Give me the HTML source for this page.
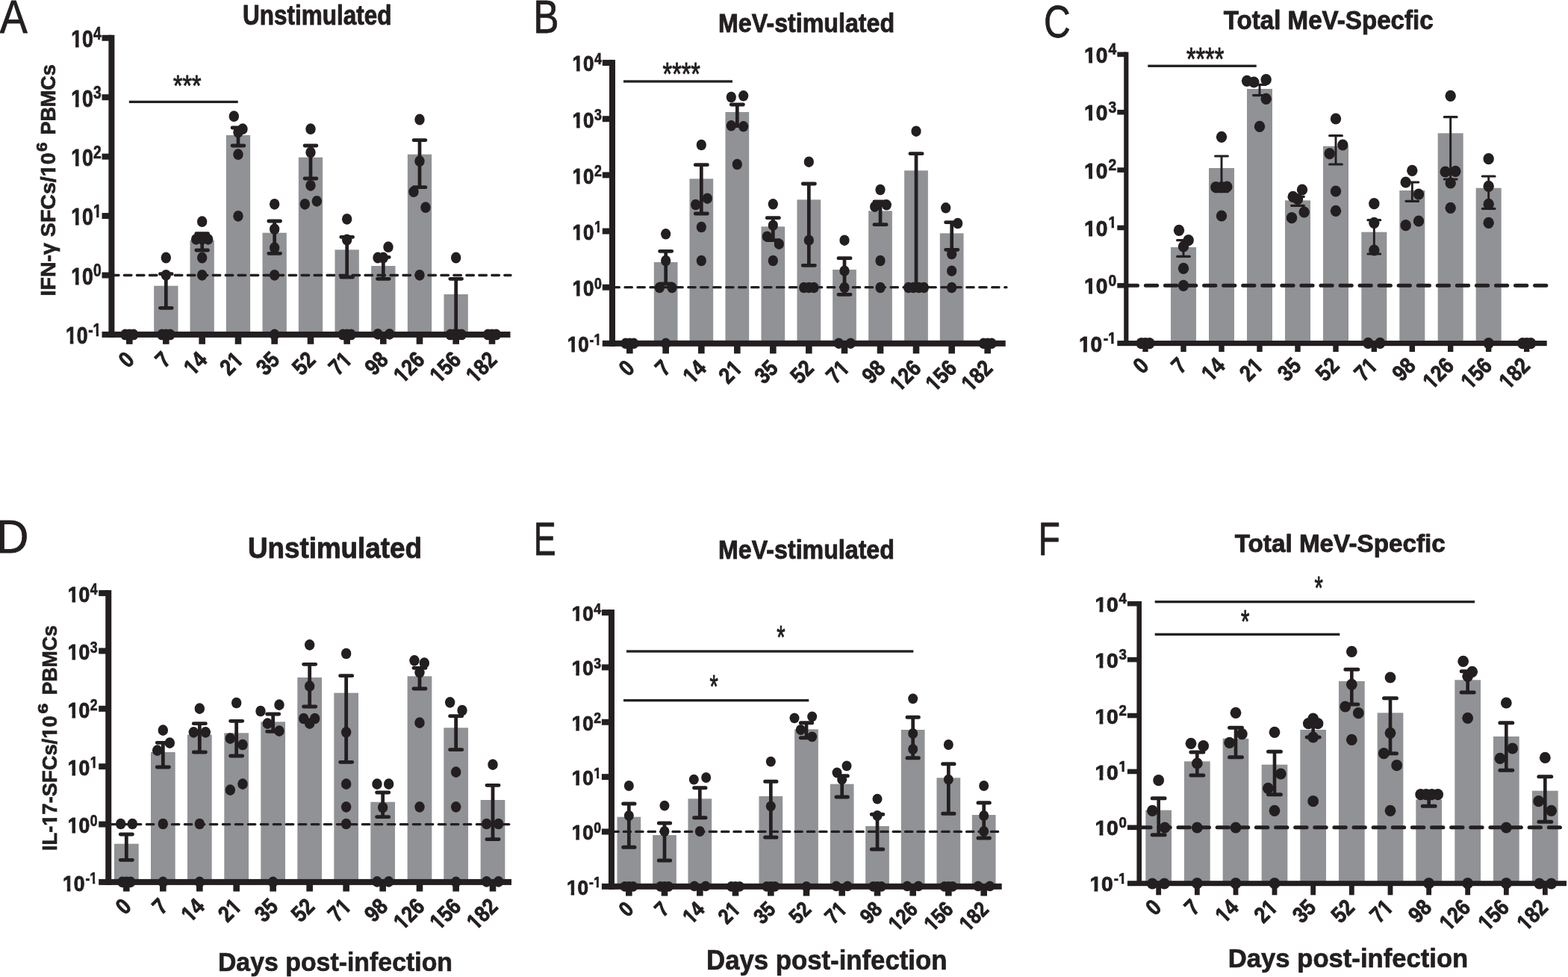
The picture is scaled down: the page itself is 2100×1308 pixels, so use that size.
<!DOCTYPE html>
<html lang="en">
<head>
<meta charset="utf-8">
<title>IFN-&#947; and IL-17 ELISpot responses after MeV infection</title>
<style>
html,body{margin:0;padding:0;background:#fff;}
body{width:2100px;height:1308px;overflow:hidden;font-family:"Liberation Sans",Arial,Helvetica,sans-serif;}
svg{display:block;}
text{white-space:pre;}
</style>
</head>
<body>
<svg width="2100" height="1308" viewBox="0 0 2100 1308" font-family="'Liberation Sans', Arial, Helvetica, sans-serif">
<defs><clipPath id="k1" clipPathUnits="userSpaceOnUse"><polygon points="-300,-300 355.62,-300 355.62,-15.6 38.7,-15.6 38.7,300 21.7,300 21.7,-15.6 -300,-15.6"/></clipPath><clipPath id="k10" clipPathUnits="userSpaceOnUse"><polygon points="-300,-300 411.23,-300 411.23,300 60,300 60,-15.6 38.7,-15.6 38.7,300 21.7,300 21.7,-15.6 -300,-15.6"/></clipPath><clipPath id="k126e" clipPathUnits="userSpaceOnUse"><polygon points="-466.86,-300 300,-300 300,300 -110.46,300 -110.46,-15.6 -128.16,-15.6 -128.16,300 -145.16,300 -145.16,-15.6 -466.86,-15.6"/></clipPath><clipPath id="k14e" clipPathUnits="userSpaceOnUse"><polygon points="-411.23,-300 300,-300 300,300 -51.23,300 -51.23,-15.6 -72.53,-15.6 -72.53,300 -89.53,300 -89.53,-15.6 -411.23,-15.6"/></clipPath><clipPath id="k156e" clipPathUnits="userSpaceOnUse"><polygon points="-466.86,-300 300,-300 300,300 -106.86,300 -106.86,-15.6 -128.16,-15.6 -128.16,300 -145.16,300 -145.16,-15.6 -466.86,-15.6"/></clipPath><clipPath id="k182e" clipPathUnits="userSpaceOnUse"><polygon points="-466.86,-300 300,-300 300,300 -106.86,300 -106.86,-15.6 -128.16,-15.6 -128.16,300 -145.16,300 -145.16,-15.6 -466.86,-15.6"/></clipPath><clipPath id="k21e" clipPathUnits="userSpaceOnUse"><polygon points="-411.23,-300 300,-300 300,-15.6 -16.92,-15.6 -16.92,300 -33.92,300 -33.92,-15.6 -54.62,-15.6 -54.62,300 -411.23,300"/></clipPath><clipPath id="k71e" clipPathUnits="userSpaceOnUse"><polygon points="-411.23,-300 300,-300 300,-15.6 -16.92,-15.6 -16.92,300 -33.92,300 -33.92,-15.6 -54.62,-15.6 -54.62,300 -411.23,300"/></clipPath><clipPath id="kIFNmgmSFCsm10" clipPathUnits="userSpaceOnUse"><polygon points="-300,-300 972.42,-300 972.42,300 621.17,300 621.17,-15.6 599.87,-15.6 599.87,300 582.87,300 582.87,-15.6 562.17,-15.6 562.17,300 -300,300"/></clipPath><clipPath id="kILm17mSFCsm10" clipPathUnits="userSpaceOnUse"><polygon points="-300,-300 961.33,-300 961.33,300 610.09,300 610.09,-15.6 588.79,-15.6 588.79,300 571.79,300 571.79,-15.6 551.09,-15.6 551.09,300 182.16,300 182.16,-15.6 160.86,-15.6 160.86,300 143.86,300 143.86,-15.6 123.16,-15.6 123.16,300 -300,300"/></clipPath><clipPath id="km1" clipPathUnits="userSpaceOnUse"><polygon points="-300,-300 388.92,-300 388.92,-15.6 72,-15.6 72,300 55,300 55,-15.6 34.3,-15.6 34.3,300 -300,300"/></clipPath></defs>
<g id="panel-A">
<g fill="#909295">
<rect x="206.18" y="382.67" width="32.3" height="65.23"/>
<rect x="254.52" y="321.67" width="32.3" height="126.23"/>
<rect x="302.85" y="181" width="32.3" height="266.9"/>
<rect x="351.52" y="311.67" width="32.3" height="136.23"/>
<rect x="399.85" y="210.67" width="32.3" height="237.23"/>
<rect x="448.52" y="334.33" width="32.3" height="113.57"/>
<rect x="497.18" y="356" width="32.3" height="91.9"/>
<rect x="545.85" y="206.67" width="32.3" height="241.23"/>
<rect x="594.52" y="394" width="32.3" height="53.9"/>
</g>
<line x1="149.4" y1="368.48" x2="684" y2="368.48" stroke="#231f20" stroke-width="3.3" stroke-linecap="round" stroke-dasharray="9.6 7.38" stroke-dashoffset="0"/>
<g fill="#231f20">
<rect x="145.4" y="46.8" width="8" height="405.1"/>
<rect x="136.5" y="443.9" width="547" height="8"/>
<rect x="136.5" y="46.8" width="12.9" height="8"/>
<rect x="136.5" y="126.22" width="12.9" height="8"/>
<rect x="136.5" y="205.64" width="12.9" height="8"/>
<rect x="136.5" y="285.06" width="12.9" height="8"/>
<rect x="136.5" y="364.48" width="12.9" height="8"/>
<rect x="169.03" y="447.9" width="8.6" height="12.9"/>
<rect x="218.03" y="447.9" width="8.6" height="12.9"/>
<rect x="266.37" y="447.9" width="8.6" height="12.9"/>
<rect x="314.7" y="447.9" width="8.6" height="12.9"/>
<rect x="363.37" y="447.9" width="8.6" height="12.9"/>
<rect x="411.7" y="447.9" width="8.6" height="12.9"/>
<rect x="460.37" y="447.9" width="8.6" height="12.9"/>
<rect x="509.03" y="447.9" width="8.6" height="12.9"/>
<rect x="557.7" y="447.9" width="8.6" height="12.9"/>
<rect x="606.37" y="447.9" width="8.6" height="12.9"/>
<rect x="654.7" y="447.9" width="8.6" height="12.9"/>
</g>
<g stroke="#231f20" fill="none">
<path stroke-width="4.7" d="M222.33 366.67V412.33M270.67 312.67V335M319 171V195M367.67 296V339.33M416 195V239M464.67 317.33V371M513.33 344.33V373.33M562 187.67V250.67M610.67 373.33V447.9"/>
<path stroke-width="4.9" stroke-linecap="round" d="M214.48 366.67H230.18M214.48 412.33H230.18M262.82 312.67H278.52M262.82 335H278.52M311.15 171H326.85M311.15 195H326.85M359.82 296H375.52M359.82 339.33H375.52M408.15 195H423.85M408.15 239H423.85M456.82 317.33H472.52M456.82 371H472.52M505.48 344.33H521.18M505.48 373.33H521.18M554.15 187.67H569.85M554.15 250.67H569.85M602.82 373.33H618.52"/>
</g>
<g fill="#231f20">
<ellipse cx="167.83" cy="447.9" rx="6.7" ry="7.4"/>
<ellipse cx="173.33" cy="447.9" rx="6.7" ry="7.4"/>
<ellipse cx="178.83" cy="447.9" rx="6.7" ry="7.4"/>
<ellipse cx="222.33" cy="345" rx="6.7" ry="7.4"/>
<ellipse cx="222.33" cy="368.33" rx="6.7" ry="7.4"/>
<ellipse cx="216.83" cy="447.9" rx="6.7" ry="7.4"/>
<ellipse cx="222.33" cy="447.9" rx="6.7" ry="7.4"/>
<ellipse cx="227.83" cy="447.9" rx="6.7" ry="7.4"/>
<ellipse cx="270.67" cy="296.67" rx="6.7" ry="7.4"/>
<ellipse cx="262.67" cy="320.33" rx="6.7" ry="7.4"/>
<ellipse cx="270.67" cy="320.33" rx="6.7" ry="7.4"/>
<ellipse cx="278.67" cy="320.33" rx="6.7" ry="7.4"/>
<ellipse cx="270.67" cy="345" rx="6.7" ry="7.4"/>
<ellipse cx="270.67" cy="368.33" rx="6.7" ry="7.4"/>
<ellipse cx="313.33" cy="155.67" rx="6.7" ry="7.4"/>
<ellipse cx="325" cy="172.67" rx="6.7" ry="7.4"/>
<ellipse cx="319" cy="177" rx="6.7" ry="7.4"/>
<ellipse cx="319" cy="206.67" rx="6.7" ry="7.4"/>
<ellipse cx="319" cy="289.33" rx="6.7" ry="7.4"/>
<ellipse cx="367.67" cy="273.33" rx="6.7" ry="7.4"/>
<ellipse cx="367.67" cy="306.67" rx="6.7" ry="7.4"/>
<ellipse cx="367.67" cy="331.67" rx="6.7" ry="7.4"/>
<ellipse cx="367.67" cy="368.33" rx="6.7" ry="7.4"/>
<ellipse cx="367.67" cy="447.9" rx="6.7" ry="7.4"/>
<ellipse cx="416" cy="172.67" rx="6.7" ry="7.4"/>
<ellipse cx="416" cy="204" rx="6.7" ry="7.4"/>
<ellipse cx="416" cy="248.33" rx="6.7" ry="7.4"/>
<ellipse cx="408.33" cy="273.33" rx="6.7" ry="7.4"/>
<ellipse cx="424.33" cy="269.33" rx="6.7" ry="7.4"/>
<ellipse cx="464.67" cy="293.33" rx="6.7" ry="7.4"/>
<ellipse cx="464.67" cy="321" rx="6.7" ry="7.4"/>
<ellipse cx="459.17" cy="447.9" rx="6.7" ry="7.4"/>
<ellipse cx="464.67" cy="447.9" rx="6.7" ry="7.4"/>
<ellipse cx="470.17" cy="447.9" rx="6.7" ry="7.4"/>
<ellipse cx="520" cy="330.67" rx="6.7" ry="7.4"/>
<ellipse cx="506" cy="345" rx="6.7" ry="7.4"/>
<ellipse cx="513.33" cy="345" rx="6.7" ry="7.4"/>
<ellipse cx="506" cy="447.33" rx="6.7" ry="7.4"/>
<ellipse cx="521.67" cy="447.33" rx="6.7" ry="7.4"/>
<ellipse cx="562" cy="160" rx="6.7" ry="7.4"/>
<ellipse cx="562" cy="215.67" rx="6.7" ry="7.4"/>
<ellipse cx="554" cy="256.67" rx="6.7" ry="7.4"/>
<ellipse cx="570" cy="277.67" rx="6.7" ry="7.4"/>
<ellipse cx="562" cy="368.33" rx="6.7" ry="7.4"/>
<ellipse cx="610.67" cy="345" rx="6.7" ry="7.4"/>
<ellipse cx="603.17" cy="447.9" rx="6.7" ry="7.4"/>
<ellipse cx="608.17" cy="447.9" rx="6.7" ry="7.4"/>
<ellipse cx="613.17" cy="447.9" rx="6.7" ry="7.4"/>
<ellipse cx="618.17" cy="447.9" rx="6.7" ry="7.4"/>
<ellipse cx="653.5" cy="447.9" rx="6.7" ry="7.4"/>
<ellipse cx="659" cy="447.9" rx="6.7" ry="7.4"/>
<ellipse cx="664.5" cy="447.9" rx="6.7" ry="7.4"/>
</g>
<rect x="172.8" y="134.75" width="145.9" height="3.3" fill="#231f20"/>
<g fill="#231f20">
<text transform="translate(231.93 127.51) scale(0.82 1)" font-size="39.14" font-weight="normal" stroke="#231f20" stroke-width="1" stroke-linejoin="round">***</text>
<text transform="translate(95.27 63.23) scale(0.26605 0.31437)" font-weight="bold" font-size="100" stroke="#231f20" stroke-width="2.86" clip-path="url(#k10)">10</text>
<text transform="translate(125 52.75) scale(0.82 1)" font-weight="bold" font-size="23.51" stroke="#231f20" stroke-width="0.7">4</text>
<text transform="translate(95.27 142.65) scale(0.26605 0.31437)" font-weight="bold" font-size="100" stroke="#231f20" stroke-width="2.86" clip-path="url(#k10)">10</text>
<text transform="translate(125 132.17) scale(0.82 1)" font-weight="bold" font-size="23.51" stroke="#231f20" stroke-width="0.7">3</text>
<text transform="translate(95.27 222.07) scale(0.26605 0.31437)" font-weight="bold" font-size="100" stroke="#231f20" stroke-width="2.86" clip-path="url(#k10)">10</text>
<text transform="translate(125 211.59) scale(0.82 1)" font-weight="bold" font-size="23.51" stroke="#231f20" stroke-width="0.7">2</text>
<text transform="translate(95.27 301.49) scale(0.26605 0.31437)" font-weight="bold" font-size="100" stroke="#231f20" stroke-width="2.86" clip-path="url(#k10)">10</text>
<text transform="translate(125 291.01) scale(0.193 0.23507)" font-weight="bold" font-size="100" stroke="#231f20" stroke-width="2.98" clip-path="url(#k1)">1</text>
<text transform="translate(95.27 380.91) scale(0.26605 0.31437)" font-weight="bold" font-size="100" stroke="#231f20" stroke-width="2.86" clip-path="url(#k10)">10</text>
<text transform="translate(125 370.43) scale(0.82 1)" font-weight="bold" font-size="23.51" stroke="#231f20" stroke-width="0.7">0</text>
<text transform="translate(88.05 460.33) scale(0.26605 0.31437)" font-weight="bold" font-size="100" stroke="#231f20" stroke-width="2.86" clip-path="url(#k10)">10</text>
<text transform="translate(118.17 449.85) scale(0.193 0.23507)" font-weight="bold" font-size="100" stroke="#231f20" stroke-width="2.98" clip-path="url(#km1)">-1</text>
<text transform="translate(181.63 483.4) rotate(-45) scale(0.87 1)" font-weight="bold" text-anchor="end" font-size="30.1" stroke="#231f20" stroke-width="0.9">0</text>
<text transform="translate(230.63 483.4) rotate(-45) scale(0.87 1)" font-weight="bold" text-anchor="end" font-size="30.1" stroke="#231f20" stroke-width="0.9">7</text>
<text transform="translate(278.97 483.4) rotate(-45) scale(0.26187 0.301)" font-weight="bold" text-anchor="end" font-size="100" stroke="#231f20" stroke-width="2.99" clip-path="url(#k14e)">14</text>
<text transform="translate(327.3 483.4) rotate(-45) scale(0.26187 0.301)" font-weight="bold" text-anchor="end" font-size="100" stroke="#231f20" stroke-width="2.99" clip-path="url(#k21e)">21</text>
<text transform="translate(375.97 483.4) rotate(-45) scale(0.87 1)" font-weight="bold" text-anchor="end" font-size="30.1" stroke="#231f20" stroke-width="0.9">35</text>
<text transform="translate(424.3 483.4) rotate(-45) scale(0.87 1)" font-weight="bold" text-anchor="end" font-size="30.1" stroke="#231f20" stroke-width="0.9">52</text>
<text transform="translate(472.97 483.4) rotate(-45) scale(0.26187 0.301)" font-weight="bold" text-anchor="end" font-size="100" stroke="#231f20" stroke-width="2.99" clip-path="url(#k71e)">71</text>
<text transform="translate(521.63 483.4) rotate(-45) scale(0.87 1)" font-weight="bold" text-anchor="end" font-size="30.1" stroke="#231f20" stroke-width="0.9">98</text>
<text transform="translate(570.3 483.4) rotate(-45) scale(0.26187 0.301)" font-weight="bold" text-anchor="end" font-size="100" stroke="#231f20" stroke-width="2.99" clip-path="url(#k126e)">126</text>
<text transform="translate(618.97 483.4) rotate(-45) scale(0.26187 0.301)" font-weight="bold" text-anchor="end" font-size="100" stroke="#231f20" stroke-width="2.99" clip-path="url(#k156e)">156</text>
<text transform="translate(667.3 483.4) rotate(-45) scale(0.26187 0.301)" font-weight="bold" text-anchor="end" font-size="100" stroke="#231f20" stroke-width="2.99" clip-path="url(#k182e)">182</text>
<text transform="translate(-0.23 43.9) scale(0.88 1)" font-size="63.07" font-weight="normal" stroke="#231f20" stroke-width="0.8" stroke-linejoin="round">A</text>
<text transform="translate(325.1 32.75) scale(0.87 1)" font-size="36.2" font-weight="bold" stroke="#231f20" stroke-width="0.9" stroke-linejoin="round">Unstimulated</text>
<text transform="translate(73.85 396.49) rotate(-90) scale(0.2856 0.27246)" font-weight="bold" font-size="100" stroke="#231f20" stroke-width="2.57" clip-path="url(#kIFNmgmSFCsm10)">IFN-γ SFCs/10</text>
<text transform="translate(63.45 202.98) rotate(-90) scale(1.16 1)" font-weight="bold" font-size="19.43" stroke="#231f20" stroke-width="0.7">6</text>
<text transform="translate(73.85 180.61) rotate(-90) scale(0.99 1)" font-weight="bold" font-size="27.25" stroke="#231f20" stroke-width="0.7">PBMCs</text>
</g>
</g>
<g id="panel-B">
<g fill="#909295">
<rect x="875.82" y="351" width="31.7" height="108.8"/>
<rect x="923.48" y="239.33" width="31.7" height="220.47"/>
<rect x="971.48" y="150" width="31.7" height="309.8"/>
<rect x="1019.48" y="303.33" width="31.7" height="156.47"/>
<rect x="1067.48" y="267.33" width="31.7" height="192.47"/>
<rect x="1115.15" y="361" width="31.7" height="98.8"/>
<rect x="1163.15" y="282.33" width="31.7" height="177.47"/>
<rect x="1211.15" y="228.33" width="31.7" height="231.47"/>
<rect x="1258.82" y="312.33" width="31.7" height="147.47"/>
</g>
<line x1="820" y1="384.66" x2="1348" y2="384.66" stroke="#231f20" stroke-width="3.1" stroke-linecap="round" stroke-dasharray="9.5 7.455" stroke-dashoffset="0"/>
<g fill="#231f20">
<rect x="816" y="80.08" width="8" height="383.72"/>
<rect x="806.8" y="455.8" width="539.9" height="8"/>
<rect x="806.8" y="80.08" width="13.2" height="8"/>
<rect x="806.8" y="155.22" width="13.2" height="8"/>
<rect x="806.8" y="230.37" width="13.2" height="8"/>
<rect x="806.8" y="305.51" width="13.2" height="8"/>
<rect x="806.8" y="380.66" width="13.2" height="8"/>
<rect x="839.03" y="459.8" width="8.6" height="13.6"/>
<rect x="887.37" y="459.8" width="8.6" height="13.6"/>
<rect x="935.03" y="459.8" width="8.6" height="13.6"/>
<rect x="983.03" y="459.8" width="8.6" height="13.6"/>
<rect x="1031.03" y="459.8" width="8.6" height="13.6"/>
<rect x="1079.03" y="459.8" width="8.6" height="13.6"/>
<rect x="1126.7" y="459.8" width="8.6" height="13.6"/>
<rect x="1174.7" y="459.8" width="8.6" height="13.6"/>
<rect x="1222.7" y="459.8" width="8.6" height="13.6"/>
<rect x="1270.37" y="459.8" width="8.6" height="13.6"/>
<rect x="1318.37" y="459.8" width="8.6" height="13.6"/>
</g>
<g stroke="#231f20" fill="none">
<path stroke-width="4.7" d="M891.67 336.33V380M939.33 220.67V286M987.33 140V168.67M1035.33 291.67V321.67M1083.33 246V355.33M1131 345.67V394.33M1179 270V300.67M1227 205.67V383.33M1274.67 297.67V334.33"/>
<path stroke-width="4.9" stroke-linecap="round" d="M883.62 336.33H899.72M883.62 380H899.72M931.28 220.67H947.38M931.28 286H947.38M979.28 140H995.38M979.28 168.67H995.38M1027.28 291.67H1043.38M1027.28 321.67H1043.38M1075.28 246H1091.38M1075.28 355.33H1091.38M1122.95 345.67H1139.05M1122.95 394.33H1139.05M1170.95 270H1187.05M1170.95 300.67H1187.05M1218.95 205.67H1235.05M1218.95 383.33H1235.05M1266.62 297.67H1282.72M1266.62 334.33H1282.72"/>
</g>
<g fill="#231f20">
<ellipse cx="837.83" cy="459.8" rx="6.6" ry="7.25"/>
<ellipse cx="843.33" cy="459.8" rx="6.6" ry="7.25"/>
<ellipse cx="848.83" cy="459.8" rx="6.6" ry="7.25"/>
<ellipse cx="891.67" cy="313.33" rx="6.6" ry="7.25"/>
<ellipse cx="891.67" cy="349" rx="6.6" ry="7.25"/>
<ellipse cx="883.33" cy="385" rx="6.6" ry="7.25"/>
<ellipse cx="900" cy="385" rx="6.6" ry="7.25"/>
<ellipse cx="891.67" cy="459.8" rx="6.6" ry="7.25"/>
<ellipse cx="939.33" cy="194" rx="6.6" ry="7.25"/>
<ellipse cx="947.33" cy="265.67" rx="6.6" ry="7.25"/>
<ellipse cx="931.67" cy="274" rx="6.6" ry="7.25"/>
<ellipse cx="939.33" cy="304" rx="6.6" ry="7.25"/>
<ellipse cx="939.33" cy="349" rx="6.6" ry="7.25"/>
<ellipse cx="979.33" cy="130" rx="6.6" ry="7.25"/>
<ellipse cx="995.67" cy="128.33" rx="6.6" ry="7.25"/>
<ellipse cx="979.33" cy="168.33" rx="6.6" ry="7.25"/>
<ellipse cx="995.67" cy="169.33" rx="6.6" ry="7.25"/>
<ellipse cx="987.33" cy="220" rx="6.6" ry="7.25"/>
<ellipse cx="1035.33" cy="273.33" rx="6.6" ry="7.25"/>
<ellipse cx="1035.33" cy="301.67" rx="6.6" ry="7.25"/>
<ellipse cx="1027.33" cy="316.67" rx="6.6" ry="7.25"/>
<ellipse cx="1043.33" cy="326.67" rx="6.6" ry="7.25"/>
<ellipse cx="1035.33" cy="349" rx="6.6" ry="7.25"/>
<ellipse cx="1083.33" cy="216.67" rx="6.6" ry="7.25"/>
<ellipse cx="1083.33" cy="321.67" rx="6.6" ry="7.25"/>
<ellipse cx="1076.67" cy="385" rx="6.6" ry="7.25"/>
<ellipse cx="1083.33" cy="385" rx="6.6" ry="7.25"/>
<ellipse cx="1090" cy="385" rx="6.6" ry="7.25"/>
<ellipse cx="1131" cy="321.67" rx="6.6" ry="7.25"/>
<ellipse cx="1131" cy="362.67" rx="6.6" ry="7.25"/>
<ellipse cx="1131" cy="385" rx="6.6" ry="7.25"/>
<ellipse cx="1123.33" cy="459.67" rx="6.6" ry="7.25"/>
<ellipse cx="1139.33" cy="459.67" rx="6.6" ry="7.25"/>
<ellipse cx="1179" cy="254" rx="6.6" ry="7.25"/>
<ellipse cx="1171.67" cy="276.67" rx="6.6" ry="7.25"/>
<ellipse cx="1187.33" cy="274.33" rx="6.6" ry="7.25"/>
<ellipse cx="1179" cy="349" rx="6.6" ry="7.25"/>
<ellipse cx="1179" cy="385" rx="6.6" ry="7.25"/>
<ellipse cx="1227" cy="175.67" rx="6.6" ry="7.25"/>
<ellipse cx="1216.67" cy="385" rx="6.6" ry="7.25"/>
<ellipse cx="1223.33" cy="385" rx="6.6" ry="7.25"/>
<ellipse cx="1230.67" cy="385" rx="6.6" ry="7.25"/>
<ellipse cx="1237.33" cy="385" rx="6.6" ry="7.25"/>
<ellipse cx="1266.67" cy="278.33" rx="6.6" ry="7.25"/>
<ellipse cx="1282.67" cy="299" rx="6.6" ry="7.25"/>
<ellipse cx="1274.67" cy="340" rx="6.6" ry="7.25"/>
<ellipse cx="1274.67" cy="362.67" rx="6.6" ry="7.25"/>
<ellipse cx="1274.67" cy="385" rx="6.6" ry="7.25"/>
<ellipse cx="1317.17" cy="459.8" rx="6.6" ry="7.25"/>
<ellipse cx="1322.67" cy="459.8" rx="6.6" ry="7.25"/>
<ellipse cx="1328.17" cy="459.8" rx="6.6" ry="7.25"/>
</g>
<rect x="835" y="107.35" width="146" height="3.3" fill="#231f20"/>
<g fill="#231f20">
<text transform="translate(887.57 112.78) scale(0.77 1)" font-size="42" font-weight="normal" stroke="#231f20" stroke-width="1" stroke-linejoin="round">****</text>
<text transform="translate(766.51 95.38) scale(0.25965 0.29014)" font-weight="bold" font-size="100" stroke="#231f20" stroke-width="3.1" clip-path="url(#k10)">10</text>
<text transform="translate(795.88 86.03) scale(0.8 1)" font-weight="bold" font-size="22.26" stroke="#231f20" stroke-width="0.7">4</text>
<text transform="translate(766.51 170.52) scale(0.25965 0.29014)" font-weight="bold" font-size="100" stroke="#231f20" stroke-width="3.1" clip-path="url(#k10)">10</text>
<text transform="translate(795.88 161.17) scale(0.8 1)" font-weight="bold" font-size="22.26" stroke="#231f20" stroke-width="0.7">3</text>
<text transform="translate(766.51 245.67) scale(0.25965 0.29014)" font-weight="bold" font-size="100" stroke="#231f20" stroke-width="3.1" clip-path="url(#k10)">10</text>
<text transform="translate(795.88 236.32) scale(0.8 1)" font-weight="bold" font-size="22.26" stroke="#231f20" stroke-width="0.7">2</text>
<text transform="translate(766.51 320.81) scale(0.25965 0.29014)" font-weight="bold" font-size="100" stroke="#231f20" stroke-width="3.1" clip-path="url(#k10)">10</text>
<text transform="translate(795.88 311.46) scale(0.17707 0.22261)" font-weight="bold" font-size="100" stroke="#231f20" stroke-width="3.14" clip-path="url(#k1)">1</text>
<text transform="translate(766.51 395.96) scale(0.25965 0.29014)" font-weight="bold" font-size="100" stroke="#231f20" stroke-width="3.1" clip-path="url(#k10)">10</text>
<text transform="translate(795.88 386.61) scale(0.8 1)" font-weight="bold" font-size="22.26" stroke="#231f20" stroke-width="0.7">0</text>
<text transform="translate(759.81 471.1) scale(0.25965 0.29014)" font-weight="bold" font-size="100" stroke="#231f20" stroke-width="3.1" clip-path="url(#k10)">10</text>
<text transform="translate(789.59 461.75) scale(0.17707 0.22261)" font-weight="bold" font-size="100" stroke="#231f20" stroke-width="3.14" clip-path="url(#km1)">-1</text>
<text transform="translate(851.63 494.6) rotate(-45) scale(0.87 1)" font-weight="bold" text-anchor="end" font-size="30.1" stroke="#231f20" stroke-width="0.9">0</text>
<text transform="translate(899.97 494.6) rotate(-45) scale(0.87 1)" font-weight="bold" text-anchor="end" font-size="30.1" stroke="#231f20" stroke-width="0.9">7</text>
<text transform="translate(947.63 494.6) rotate(-45) scale(0.26187 0.301)" font-weight="bold" text-anchor="end" font-size="100" stroke="#231f20" stroke-width="2.99" clip-path="url(#k14e)">14</text>
<text transform="translate(995.63 494.6) rotate(-45) scale(0.26187 0.301)" font-weight="bold" text-anchor="end" font-size="100" stroke="#231f20" stroke-width="2.99" clip-path="url(#k21e)">21</text>
<text transform="translate(1043.63 494.6) rotate(-45) scale(0.87 1)" font-weight="bold" text-anchor="end" font-size="30.1" stroke="#231f20" stroke-width="0.9">35</text>
<text transform="translate(1091.63 494.6) rotate(-45) scale(0.87 1)" font-weight="bold" text-anchor="end" font-size="30.1" stroke="#231f20" stroke-width="0.9">52</text>
<text transform="translate(1139.3 494.6) rotate(-45) scale(0.26187 0.301)" font-weight="bold" text-anchor="end" font-size="100" stroke="#231f20" stroke-width="2.99" clip-path="url(#k71e)">71</text>
<text transform="translate(1187.3 494.6) rotate(-45) scale(0.87 1)" font-weight="bold" text-anchor="end" font-size="30.1" stroke="#231f20" stroke-width="0.9">98</text>
<text transform="translate(1235.3 494.6) rotate(-45) scale(0.26187 0.301)" font-weight="bold" text-anchor="end" font-size="100" stroke="#231f20" stroke-width="2.99" clip-path="url(#k126e)">126</text>
<text transform="translate(1282.97 494.6) rotate(-45) scale(0.26187 0.301)" font-weight="bold" text-anchor="end" font-size="100" stroke="#231f20" stroke-width="2.99" clip-path="url(#k156e)">156</text>
<text transform="translate(1330.97 494.6) rotate(-45) scale(0.26187 0.301)" font-weight="bold" text-anchor="end" font-size="100" stroke="#231f20" stroke-width="2.99" clip-path="url(#k182e)">182</text>
<text transform="translate(714.34 43.9) scale(0.82 1)" font-size="62.61" font-weight="normal" stroke="#231f20" stroke-width="0.8" stroke-linejoin="round">B</text>
<text transform="translate(962.02 42.55) scale(0.9 1)" font-size="35.77" font-weight="bold" stroke="#231f20" stroke-width="0.9" stroke-linejoin="round">MeV-stimulated</text>
</g>
</g>
<g id="panel-C">
<g fill="#909295">
<rect x="1568" y="331" width="34" height="128.6"/>
<rect x="1619" y="225" width="34" height="234.6"/>
<rect x="1670" y="119" width="34" height="340.6"/>
<rect x="1721" y="268.33" width="34" height="191.27"/>
<rect x="1772" y="195.67" width="34" height="263.93"/>
<rect x="1823.33" y="310.67" width="34" height="148.93"/>
<rect x="1874.33" y="255" width="34" height="204.6"/>
<rect x="1925.67" y="178.33" width="34" height="281.27"/>
<rect x="1976.67" y="251.67" width="34" height="207.93"/>
</g>
<line x1="1508.3" y1="382.26" x2="2071" y2="382.26" stroke="#231f20" stroke-width="5" stroke-linecap="round" stroke-dasharray="15.3 10.76" stroke-dashoffset="0"/>
<g fill="#231f20">
<rect x="1505.2" y="69.6" width="6.2" height="393.1"/>
<rect x="1496.3" y="456.05" width="575.4" height="7.1"/>
<rect x="1496.3" y="69.6" width="12" height="6.6"/>
<rect x="1496.3" y="146.94" width="12" height="6.6"/>
<rect x="1496.3" y="224.28" width="12" height="6.6"/>
<rect x="1496.3" y="301.62" width="12" height="6.6"/>
<rect x="1496.3" y="378.96" width="12" height="6.6"/>
<rect x="1530.3" y="459.6" width="7.4" height="11.5"/>
<rect x="1581.3" y="459.6" width="7.4" height="11.5"/>
<rect x="1632.3" y="459.6" width="7.4" height="11.5"/>
<rect x="1683.3" y="459.6" width="7.4" height="11.5"/>
<rect x="1734.3" y="459.6" width="7.4" height="11.5"/>
<rect x="1785.3" y="459.6" width="7.4" height="11.5"/>
<rect x="1836.63" y="459.6" width="7.4" height="11.5"/>
<rect x="1887.63" y="459.6" width="7.4" height="11.5"/>
<rect x="1938.97" y="459.6" width="7.4" height="11.5"/>
<rect x="1989.97" y="459.6" width="7.4" height="11.5"/>
<rect x="2040.97" y="459.6" width="7.4" height="11.5"/>
</g>
<g stroke="#231f20" fill="none">
<path stroke-width="2.9" d="M1585 321.67V343.33M1636 209V256.67M1687 113.33V127.67M1738 263.33V275.33M1789 181.67V220M1840.33 294.67V340M1891.33 244V269.33M1942.67 156.67V240M1993.67 236V279.33"/>
<path stroke-width="3.1" stroke-linecap="round" d="M1576.6 321.67H1593.4M1576.6 343.33H1593.4M1627.6 209H1644.4M1627.6 256.67H1644.4M1678.6 113.33H1695.4M1678.6 127.67H1695.4M1729.6 263.33H1746.4M1729.6 275.33H1746.4M1780.6 181.67H1797.4M1780.6 220H1797.4M1831.93 294.67H1848.73M1831.93 340H1848.73M1882.93 244H1899.73M1882.93 269.33H1899.73M1934.27 156.67H1951.07M1934.27 240H1951.07M1985.27 236H2002.07M1985.27 279.33H2002.07"/>
</g>
<g fill="#231f20">
<ellipse cx="1528.5" cy="459.6" rx="7.2" ry="7.6"/>
<ellipse cx="1534" cy="459.6" rx="7.2" ry="7.6"/>
<ellipse cx="1539.5" cy="459.6" rx="7.2" ry="7.6"/>
<ellipse cx="1579" cy="308.33" rx="7.2" ry="7.6"/>
<ellipse cx="1591.67" cy="321.67" rx="7.2" ry="7.6"/>
<ellipse cx="1585" cy="330" rx="7.2" ry="7.6"/>
<ellipse cx="1585" cy="359.33" rx="7.2" ry="7.6"/>
<ellipse cx="1585" cy="382.33" rx="7.2" ry="7.6"/>
<ellipse cx="1636" cy="183.33" rx="7.2" ry="7.6"/>
<ellipse cx="1628.33" cy="250.67" rx="7.2" ry="7.6"/>
<ellipse cx="1636" cy="250.67" rx="7.2" ry="7.6"/>
<ellipse cx="1643.33" cy="250" rx="7.2" ry="7.6"/>
<ellipse cx="1636" cy="289" rx="7.2" ry="7.6"/>
<ellipse cx="1670" cy="108.33" rx="7.2" ry="7.6"/>
<ellipse cx="1679.33" cy="110" rx="7.2" ry="7.6"/>
<ellipse cx="1695.67" cy="106.67" rx="7.2" ry="7.6"/>
<ellipse cx="1695.67" cy="132.33" rx="7.2" ry="7.6"/>
<ellipse cx="1687" cy="169.33" rx="7.2" ry="7.6"/>
<ellipse cx="1744" cy="254" rx="7.2" ry="7.6"/>
<ellipse cx="1731.67" cy="263.33" rx="7.2" ry="7.6"/>
<ellipse cx="1738" cy="266.67" rx="7.2" ry="7.6"/>
<ellipse cx="1746.67" cy="284" rx="7.2" ry="7.6"/>
<ellipse cx="1730" cy="291.67" rx="7.2" ry="7.6"/>
<ellipse cx="1789" cy="159" rx="7.2" ry="7.6"/>
<ellipse cx="1798.33" cy="194" rx="7.2" ry="7.6"/>
<ellipse cx="1780.67" cy="205.67" rx="7.2" ry="7.6"/>
<ellipse cx="1789" cy="256" rx="7.2" ry="7.6"/>
<ellipse cx="1789" cy="282.33" rx="7.2" ry="7.6"/>
<ellipse cx="1840.33" cy="272.67" rx="7.2" ry="7.6"/>
<ellipse cx="1840.33" cy="298.33" rx="7.2" ry="7.6"/>
<ellipse cx="1840.33" cy="335" rx="7.2" ry="7.6"/>
<ellipse cx="1832.33" cy="459.33" rx="7.2" ry="7.6"/>
<ellipse cx="1848.33" cy="459.33" rx="7.2" ry="7.6"/>
<ellipse cx="1891.33" cy="228.33" rx="7.2" ry="7.6"/>
<ellipse cx="1882.67" cy="244" rx="7.2" ry="7.6"/>
<ellipse cx="1900" cy="260" rx="7.2" ry="7.6"/>
<ellipse cx="1900" cy="296" rx="7.2" ry="7.6"/>
<ellipse cx="1882.67" cy="301.67" rx="7.2" ry="7.6"/>
<ellipse cx="1942.67" cy="128.33" rx="7.2" ry="7.6"/>
<ellipse cx="1935.67" cy="230" rx="7.2" ry="7.6"/>
<ellipse cx="1949.33" cy="229.33" rx="7.2" ry="7.6"/>
<ellipse cx="1942.67" cy="245" rx="7.2" ry="7.6"/>
<ellipse cx="1942.67" cy="278.33" rx="7.2" ry="7.6"/>
<ellipse cx="1993.67" cy="212.67" rx="7.2" ry="7.6"/>
<ellipse cx="1993.67" cy="249.33" rx="7.2" ry="7.6"/>
<ellipse cx="1993.67" cy="273.33" rx="7.2" ry="7.6"/>
<ellipse cx="1993.67" cy="298.33" rx="7.2" ry="7.6"/>
<ellipse cx="1993.67" cy="459.6" rx="7.2" ry="7.6"/>
<ellipse cx="2039.17" cy="459.6" rx="7.2" ry="7.6"/>
<ellipse cx="2044.67" cy="459.6" rx="7.2" ry="7.6"/>
<ellipse cx="2050.17" cy="459.6" rx="7.2" ry="7.6"/>
</g>
<rect x="1537.3" y="86.65" width="145.4" height="3.3" fill="#231f20"/>
<g fill="#231f20">
<text transform="translate(1588.9 92.78) scale(0.77 1)" font-size="42" font-weight="normal" stroke="#231f20" stroke-width="1" stroke-linejoin="round">****</text>
<text transform="translate(1452.11 84.1) scale(0.28208 0.29817)" font-weight="bold" font-size="100" stroke="#231f20" stroke-width="3.02" clip-path="url(#k10)">10</text>
<text transform="translate(1484.48 73.32) scale(0.85 1)" font-weight="bold" font-size="22.67" stroke="#231f20" stroke-width="0.7">4</text>
<text transform="translate(1452.11 161.44) scale(0.28208 0.29817)" font-weight="bold" font-size="100" stroke="#231f20" stroke-width="3.02" clip-path="url(#k10)">10</text>
<text transform="translate(1484.48 150.66) scale(0.85 1)" font-weight="bold" font-size="22.67" stroke="#231f20" stroke-width="0.7">3</text>
<text transform="translate(1452.11 238.78) scale(0.28208 0.29817)" font-weight="bold" font-size="100" stroke="#231f20" stroke-width="3.02" clip-path="url(#k10)">10</text>
<text transform="translate(1484.48 228) scale(0.85 1)" font-weight="bold" font-size="22.67" stroke="#231f20" stroke-width="0.7">2</text>
<text transform="translate(1452.11 316.12) scale(0.28208 0.29817)" font-weight="bold" font-size="100" stroke="#231f20" stroke-width="3.02" clip-path="url(#k10)">10</text>
<text transform="translate(1484.48 305.34) scale(0.19262 0.22667)" font-weight="bold" font-size="100" stroke="#231f20" stroke-width="3.09" clip-path="url(#k1)">1</text>
<text transform="translate(1452.11 393.46) scale(0.28208 0.29817)" font-weight="bold" font-size="100" stroke="#231f20" stroke-width="3.02" clip-path="url(#k10)">10</text>
<text transform="translate(1484.48 382.68) scale(0.85 1)" font-weight="bold" font-size="22.67" stroke="#231f20" stroke-width="0.7">0</text>
<text transform="translate(1444.9 470.8) scale(0.28208 0.29817)" font-weight="bold" font-size="100" stroke="#231f20" stroke-width="3.02" clip-path="url(#k10)">10</text>
<text transform="translate(1477.66 460.02) scale(0.19262 0.22667)" font-weight="bold" font-size="100" stroke="#231f20" stroke-width="3.09" clip-path="url(#km1)">-1</text>
<text transform="translate(1540.2 491.5) rotate(-45) scale(0.87 1)" font-weight="bold" text-anchor="end" font-size="30.1" stroke="#231f20" stroke-width="0.9">0</text>
<text transform="translate(1591.2 491.5) rotate(-45) scale(0.87 1)" font-weight="bold" text-anchor="end" font-size="30.1" stroke="#231f20" stroke-width="0.9">7</text>
<text transform="translate(1642.2 491.5) rotate(-45) scale(0.26187 0.301)" font-weight="bold" text-anchor="end" font-size="100" stroke="#231f20" stroke-width="2.99" clip-path="url(#k14e)">14</text>
<text transform="translate(1693.2 491.5) rotate(-45) scale(0.26187 0.301)" font-weight="bold" text-anchor="end" font-size="100" stroke="#231f20" stroke-width="2.99" clip-path="url(#k21e)">21</text>
<text transform="translate(1744.2 491.5) rotate(-45) scale(0.87 1)" font-weight="bold" text-anchor="end" font-size="30.1" stroke="#231f20" stroke-width="0.9">35</text>
<text transform="translate(1795.2 491.5) rotate(-45) scale(0.87 1)" font-weight="bold" text-anchor="end" font-size="30.1" stroke="#231f20" stroke-width="0.9">52</text>
<text transform="translate(1846.53 491.5) rotate(-45) scale(0.26187 0.301)" font-weight="bold" text-anchor="end" font-size="100" stroke="#231f20" stroke-width="2.99" clip-path="url(#k71e)">71</text>
<text transform="translate(1897.53 491.5) rotate(-45) scale(0.87 1)" font-weight="bold" text-anchor="end" font-size="30.1" stroke="#231f20" stroke-width="0.9">98</text>
<text transform="translate(1948.87 491.5) rotate(-45) scale(0.26187 0.301)" font-weight="bold" text-anchor="end" font-size="100" stroke="#231f20" stroke-width="2.99" clip-path="url(#k126e)">126</text>
<text transform="translate(1999.87 491.5) rotate(-45) scale(0.26187 0.301)" font-weight="bold" text-anchor="end" font-size="100" stroke="#231f20" stroke-width="2.99" clip-path="url(#k156e)">156</text>
<text transform="translate(2050.87 491.5) rotate(-45) scale(0.26187 0.301)" font-weight="bold" text-anchor="end" font-size="100" stroke="#231f20" stroke-width="2.99" clip-path="url(#k182e)">182</text>
<text transform="translate(1397.94 50.3) scale(0.8 1)" font-size="61.83" font-weight="normal" stroke="#231f20" stroke-width="0.8" stroke-linejoin="round">C</text>
<text transform="translate(1638.7 39.45) scale(0.96 1)" font-size="34.51" font-weight="bold" stroke="#231f20" stroke-width="0.9" stroke-linejoin="round">Total MeV-Specfic</text>
</g>
</g>
<g id="panel-D">
<g fill="#909295">
<rect x="152.98" y="1129.67" width="32.7" height="51.23"/>
<rect x="201.98" y="1007" width="32.7" height="173.9"/>
<rect x="250.98" y="983.67" width="32.7" height="197.23"/>
<rect x="300.32" y="981.33" width="32.7" height="199.57"/>
<rect x="349.32" y="966.33" width="32.7" height="214.57"/>
<rect x="398.32" y="907" width="32.7" height="273.9"/>
<rect x="447.32" y="927.67" width="32.7" height="253.23"/>
<rect x="496.32" y="1073.67" width="32.7" height="107.23"/>
<rect x="545.65" y="905.33" width="32.7" height="275.57"/>
<rect x="594.32" y="974.33" width="32.7" height="206.57"/>
<rect x="643.65" y="1071" width="32.7" height="109.9"/>
</g>
<line x1="145.25" y1="1103.54" x2="685" y2="1103.54" stroke="#231f20" stroke-width="3.2" stroke-linecap="round" stroke-dasharray="9.6 7.4" stroke-dashoffset="0"/>
<g fill="#231f20">
<rect x="141.25" y="790.1" width="8" height="394.8"/>
<rect x="132.2" y="1176.9" width="552.8" height="8"/>
<rect x="132.2" y="790.1" width="13.05" height="8"/>
<rect x="132.2" y="867.46" width="13.05" height="8"/>
<rect x="132.2" y="944.82" width="13.05" height="8"/>
<rect x="132.2" y="1022.18" width="13.05" height="8"/>
<rect x="132.2" y="1099.54" width="13.05" height="8"/>
<rect x="165.03" y="1180.9" width="8.6" height="12.6"/>
<rect x="214.03" y="1180.9" width="8.6" height="12.6"/>
<rect x="263.03" y="1180.9" width="8.6" height="12.6"/>
<rect x="312.37" y="1180.9" width="8.6" height="12.6"/>
<rect x="361.37" y="1180.9" width="8.6" height="12.6"/>
<rect x="410.37" y="1180.9" width="8.6" height="12.6"/>
<rect x="459.37" y="1180.9" width="8.6" height="12.6"/>
<rect x="508.37" y="1180.9" width="8.6" height="12.6"/>
<rect x="557.7" y="1180.9" width="8.6" height="12.6"/>
<rect x="606.37" y="1180.9" width="8.6" height="12.6"/>
<rect x="655.7" y="1180.9" width="8.6" height="12.6"/>
</g>
<g stroke="#231f20" fill="none">
<path stroke-width="4.8" d="M169.33 1117V1151.33M218.33 994.33V1027M267.33 968.67V1007M316.67 965.33V1012M365.67 956V979.33M414.67 889.33V946M463.67 904.67V1020.33M512.67 1061V1093.67M562 894.33V922M610.67 958.67V1003.67M660 1051.33V1123.67"/>
<path stroke-width="4.9" stroke-linecap="round" d="M161.28 1117H177.38M161.28 1151.33H177.38M210.28 994.33H226.38M210.28 1027H226.38M259.28 968.67H275.38M259.28 1007H275.38M308.62 965.33H324.72M308.62 1012H324.72M357.62 956H373.72M357.62 979.33H373.72M406.62 889.33H422.72M406.62 946H422.72M455.62 904.67H471.72M455.62 1020.33H471.72M504.62 1061H520.72M504.62 1093.67H520.72M553.95 894.33H570.05M553.95 922H570.05M602.62 958.67H618.72M602.62 1003.67H618.72M651.95 1051.33H668.05M651.95 1123.67H668.05"/>
</g>
<g fill="#231f20">
<ellipse cx="161.67" cy="1103" rx="6.7" ry="7.35"/>
<ellipse cx="177.33" cy="1103" rx="6.7" ry="7.35"/>
<ellipse cx="163.83" cy="1180.9" rx="6.7" ry="7.35"/>
<ellipse cx="169.33" cy="1180.9" rx="6.7" ry="7.35"/>
<ellipse cx="174.83" cy="1180.9" rx="6.7" ry="7.35"/>
<ellipse cx="218.33" cy="977.67" rx="6.7" ry="7.35"/>
<ellipse cx="227.33" cy="994.67" rx="6.7" ry="7.35"/>
<ellipse cx="210.67" cy="1004.67" rx="6.7" ry="7.35"/>
<ellipse cx="218.33" cy="1103" rx="6.7" ry="7.35"/>
<ellipse cx="218.33" cy="1180.9" rx="6.7" ry="7.35"/>
<ellipse cx="267.33" cy="948.67" rx="6.7" ry="7.35"/>
<ellipse cx="259.33" cy="980.33" rx="6.7" ry="7.35"/>
<ellipse cx="275.33" cy="980.33" rx="6.7" ry="7.35"/>
<ellipse cx="267.33" cy="1103" rx="6.7" ry="7.35"/>
<ellipse cx="267.33" cy="1180.9" rx="6.7" ry="7.35"/>
<ellipse cx="316.67" cy="941" rx="6.7" ry="7.35"/>
<ellipse cx="308.33" cy="988.67" rx="6.7" ry="7.35"/>
<ellipse cx="325" cy="997" rx="6.7" ry="7.35"/>
<ellipse cx="325" cy="1049.67" rx="6.7" ry="7.35"/>
<ellipse cx="308.33" cy="1057.67" rx="6.7" ry="7.35"/>
<ellipse cx="374" cy="943.67" rx="6.7" ry="7.35"/>
<ellipse cx="349" cy="952" rx="6.7" ry="7.35"/>
<ellipse cx="358.33" cy="968.67" rx="6.7" ry="7.35"/>
<ellipse cx="374" cy="978.67" rx="6.7" ry="7.35"/>
<ellipse cx="365.67" cy="1180.9" rx="6.7" ry="7.35"/>
<ellipse cx="414.67" cy="863.33" rx="6.7" ry="7.35"/>
<ellipse cx="414.67" cy="918.67" rx="6.7" ry="7.35"/>
<ellipse cx="406.67" cy="962" rx="6.7" ry="7.35"/>
<ellipse cx="421.67" cy="962" rx="6.7" ry="7.35"/>
<ellipse cx="414.67" cy="968.67" rx="6.7" ry="7.35"/>
<ellipse cx="463.67" cy="875" rx="6.7" ry="7.35"/>
<ellipse cx="463.67" cy="980.33" rx="6.7" ry="7.35"/>
<ellipse cx="463.67" cy="1049.67" rx="6.7" ry="7.35"/>
<ellipse cx="463.67" cy="1080.33" rx="6.7" ry="7.35"/>
<ellipse cx="463.67" cy="1103" rx="6.7" ry="7.35"/>
<ellipse cx="505" cy="1049.67" rx="6.7" ry="7.35"/>
<ellipse cx="520.67" cy="1049.67" rx="6.7" ry="7.35"/>
<ellipse cx="512.67" cy="1081" rx="6.7" ry="7.35"/>
<ellipse cx="505" cy="1180.33" rx="6.7" ry="7.35"/>
<ellipse cx="520.67" cy="1180.33" rx="6.7" ry="7.35"/>
<ellipse cx="555" cy="884.33" rx="6.7" ry="7.35"/>
<ellipse cx="568.33" cy="887.67" rx="6.7" ry="7.35"/>
<ellipse cx="562" cy="900.33" rx="6.7" ry="7.35"/>
<ellipse cx="562" cy="967.67" rx="6.7" ry="7.35"/>
<ellipse cx="562" cy="1080.33" rx="6.7" ry="7.35"/>
<ellipse cx="602.67" cy="940.33" rx="6.7" ry="7.35"/>
<ellipse cx="619" cy="951" rx="6.7" ry="7.35"/>
<ellipse cx="610.67" cy="1033.67" rx="6.7" ry="7.35"/>
<ellipse cx="610.67" cy="1080.33" rx="6.7" ry="7.35"/>
<ellipse cx="610.67" cy="1180.9" rx="6.7" ry="7.35"/>
<ellipse cx="660" cy="1023.67" rx="6.7" ry="7.35"/>
<ellipse cx="651.67" cy="1103" rx="6.7" ry="7.35"/>
<ellipse cx="667.67" cy="1103" rx="6.7" ry="7.35"/>
<ellipse cx="651.67" cy="1180.33" rx="6.7" ry="7.35"/>
<ellipse cx="667.67" cy="1180.33" rx="6.7" ry="7.35"/>
</g>
<g fill="#231f20">
<text transform="translate(90.76 805.83) scale(0.26544 0.29014)" font-weight="bold" font-size="100" stroke="#231f20" stroke-width="3.1" clip-path="url(#k10)">10</text>
<text transform="translate(120.76 796.19) scale(0.78 1)" font-weight="bold" font-size="22.67" stroke="#231f20" stroke-width="0.7">4</text>
<text transform="translate(90.76 883.19) scale(0.26544 0.29014)" font-weight="bold" font-size="100" stroke="#231f20" stroke-width="3.1" clip-path="url(#k10)">10</text>
<text transform="translate(120.76 873.55) scale(0.78 1)" font-weight="bold" font-size="22.67" stroke="#231f20" stroke-width="0.7">3</text>
<text transform="translate(90.76 960.55) scale(0.26544 0.29014)" font-weight="bold" font-size="100" stroke="#231f20" stroke-width="3.1" clip-path="url(#k10)">10</text>
<text transform="translate(120.76 950.91) scale(0.78 1)" font-weight="bold" font-size="22.67" stroke="#231f20" stroke-width="0.7">2</text>
<text transform="translate(90.76 1037.91) scale(0.26544 0.29014)" font-weight="bold" font-size="100" stroke="#231f20" stroke-width="3.1" clip-path="url(#k10)">10</text>
<text transform="translate(120.76 1028.27) scale(0.17725 0.22667)" font-weight="bold" font-size="100" stroke="#231f20" stroke-width="3.09" clip-path="url(#k1)">1</text>
<text transform="translate(90.76 1115.27) scale(0.26544 0.29014)" font-weight="bold" font-size="100" stroke="#231f20" stroke-width="3.1" clip-path="url(#k10)">10</text>
<text transform="translate(120.76 1105.63) scale(0.78 1)" font-weight="bold" font-size="22.67" stroke="#231f20" stroke-width="0.7">0</text>
<text transform="translate(84.06 1192.63) scale(0.26544 0.29014)" font-weight="bold" font-size="100" stroke="#231f20" stroke-width="3.1" clip-path="url(#k10)">10</text>
<text transform="translate(114.46 1182.99) scale(0.17725 0.22667)" font-weight="bold" font-size="100" stroke="#231f20" stroke-width="3.09" clip-path="url(#km1)">-1</text>
<text transform="translate(177.63 1215.4) rotate(-45) scale(0.87 1)" font-weight="bold" text-anchor="end" font-size="30.1" stroke="#231f20" stroke-width="0.9">0</text>
<text transform="translate(226.63 1215.4) rotate(-45) scale(0.87 1)" font-weight="bold" text-anchor="end" font-size="30.1" stroke="#231f20" stroke-width="0.9">7</text>
<text transform="translate(275.63 1215.4) rotate(-45) scale(0.26187 0.301)" font-weight="bold" text-anchor="end" font-size="100" stroke="#231f20" stroke-width="2.99" clip-path="url(#k14e)">14</text>
<text transform="translate(324.97 1215.4) rotate(-45) scale(0.26187 0.301)" font-weight="bold" text-anchor="end" font-size="100" stroke="#231f20" stroke-width="2.99" clip-path="url(#k21e)">21</text>
<text transform="translate(373.97 1215.4) rotate(-45) scale(0.87 1)" font-weight="bold" text-anchor="end" font-size="30.1" stroke="#231f20" stroke-width="0.9">35</text>
<text transform="translate(422.97 1215.4) rotate(-45) scale(0.87 1)" font-weight="bold" text-anchor="end" font-size="30.1" stroke="#231f20" stroke-width="0.9">52</text>
<text transform="translate(471.97 1215.4) rotate(-45) scale(0.26187 0.301)" font-weight="bold" text-anchor="end" font-size="100" stroke="#231f20" stroke-width="2.99" clip-path="url(#k71e)">71</text>
<text transform="translate(520.97 1215.4) rotate(-45) scale(0.87 1)" font-weight="bold" text-anchor="end" font-size="30.1" stroke="#231f20" stroke-width="0.9">98</text>
<text transform="translate(570.3 1215.4) rotate(-45) scale(0.26187 0.301)" font-weight="bold" text-anchor="end" font-size="100" stroke="#231f20" stroke-width="2.99" clip-path="url(#k126e)">126</text>
<text transform="translate(618.97 1215.4) rotate(-45) scale(0.26187 0.301)" font-weight="bold" text-anchor="end" font-size="100" stroke="#231f20" stroke-width="2.99" clip-path="url(#k156e)">156</text>
<text transform="translate(668.3 1215.4) rotate(-45) scale(0.26187 0.301)" font-weight="bold" text-anchor="end" font-size="100" stroke="#231f20" stroke-width="2.99" clip-path="url(#k182e)">182</text>
<text transform="translate(-4.95 740.3) scale(0.95 1)" font-size="63.33" font-weight="normal" stroke="#231f20" stroke-width="0.8" stroke-linejoin="round">D</text>
<text transform="translate(331.9 747.25) scale(0.93 1)" font-size="39.58" font-weight="bold" stroke="#231f20" stroke-width="0.9" stroke-linejoin="round">Unstimulated</text>
<text transform="translate(291.92 1299.85) scale(0.95 1)" font-size="35.63" font-weight="bold" stroke="#231f20" stroke-width="0.7" stroke-linejoin="round">Days post-infection</text>
<text transform="translate(75.95 1139.04) rotate(-90) scale(0.27316 0.28406)" font-weight="bold" font-size="100" stroke="#231f20" stroke-width="2.46" clip-path="url(#kILm17mSFCsm10)">IL-17-SFCs/10</text>
<text transform="translate(63.95 955.61) rotate(-90) scale(1.31 1)" font-weight="bold" font-size="19" stroke="#231f20" stroke-width="0.7">6</text>
<text transform="translate(75.95 930.6) rotate(-90) scale(0.94 1)" font-weight="bold" font-size="28.41" stroke="#231f20" stroke-width="0.7">PBMCs</text>
</g>
</g>
<g id="panel-E">
<g fill="#909295">
<rect x="826.48" y="1093.67" width="31.7" height="93.13"/>
<rect x="874.15" y="1118" width="31.7" height="68.8"/>
<rect x="921.48" y="1069.33" width="31.7" height="117.47"/>
<rect x="1016.48" y="1066" width="31.7" height="120.8"/>
<rect x="1064.15" y="976.33" width="31.7" height="210.47"/>
<rect x="1111.82" y="1049.67" width="31.7" height="137.13"/>
<rect x="1159.15" y="1106" width="31.7" height="80.8"/>
<rect x="1206.82" y="977" width="31.7" height="209.8"/>
<rect x="1254.48" y="1041.33" width="31.7" height="145.47"/>
<rect x="1301.82" y="1091" width="31.7" height="95.8"/>
</g>
<line x1="818.95" y1="1113.46" x2="1340" y2="1113.46" stroke="#231f20" stroke-width="3.3" stroke-linecap="round" stroke-dasharray="9.3 7.1" stroke-dashoffset="0"/>
<g fill="#231f20">
<rect x="814.95" y="816.09" width="8" height="374.71"/>
<rect x="805.9" y="1182.8" width="535.8" height="8"/>
<rect x="805.9" y="816.09" width="13.05" height="8"/>
<rect x="805.9" y="889.43" width="13.05" height="8"/>
<rect x="805.9" y="962.77" width="13.05" height="8"/>
<rect x="805.9" y="1036.12" width="13.05" height="8"/>
<rect x="805.9" y="1109.46" width="13.05" height="8"/>
<rect x="838.03" y="1186.8" width="8.6" height="12.7"/>
<rect x="885.7" y="1186.8" width="8.6" height="12.7"/>
<rect x="933.03" y="1186.8" width="8.6" height="12.7"/>
<rect x="980.7" y="1186.8" width="8.6" height="12.7"/>
<rect x="1028.03" y="1186.8" width="8.6" height="12.7"/>
<rect x="1075.7" y="1186.8" width="8.6" height="12.7"/>
<rect x="1123.37" y="1186.8" width="8.6" height="12.7"/>
<rect x="1170.7" y="1186.8" width="8.6" height="12.7"/>
<rect x="1218.37" y="1186.8" width="8.6" height="12.7"/>
<rect x="1266.03" y="1186.8" width="8.6" height="12.7"/>
<rect x="1313.37" y="1186.8" width="8.6" height="12.7"/>
</g>
<g stroke="#231f20" fill="none">
<path stroke-width="4.7" d="M842.33 1076V1134.33M890 1102V1152M937.33 1054.67V1094.67M1032.33 1046.33V1121M1080 967.67V987.67M1127.67 1038.67V1067M1175 1090.33V1137M1222.67 960.33V1014.67M1270.33 1022.67V1089.33M1317.67 1074.67V1122"/>
<path stroke-width="5" stroke-linecap="round" d="M834.68 1076H849.98M834.68 1134.33H849.98M882.35 1102H897.65M882.35 1152H897.65M929.68 1054.67H944.98M929.68 1094.67H944.98M1024.68 1046.33H1039.98M1024.68 1121H1039.98M1072.35 967.67H1087.65M1072.35 987.67H1087.65M1120.02 1038.67H1135.32M1120.02 1067H1135.32M1167.35 1090.33H1182.65M1167.35 1137H1182.65M1215.02 960.33H1230.32M1215.02 1014.67H1230.32M1262.68 1022.67H1277.98M1262.68 1089.33H1277.98M1310.02 1074.67H1325.32M1310.02 1122H1325.32"/>
</g>
<g fill="#231f20">
<ellipse cx="842.33" cy="1052" rx="6.5" ry="6.9"/>
<ellipse cx="842.33" cy="1092" rx="6.5" ry="6.9"/>
<ellipse cx="836.83" cy="1186.8" rx="6.5" ry="6.9"/>
<ellipse cx="842.33" cy="1186.8" rx="6.5" ry="6.9"/>
<ellipse cx="847.83" cy="1186.8" rx="6.5" ry="6.9"/>
<ellipse cx="890" cy="1078.67" rx="6.5" ry="6.9"/>
<ellipse cx="890" cy="1113" rx="6.5" ry="6.9"/>
<ellipse cx="884.5" cy="1186.8" rx="6.5" ry="6.9"/>
<ellipse cx="890" cy="1186.8" rx="6.5" ry="6.9"/>
<ellipse cx="895.5" cy="1186.8" rx="6.5" ry="6.9"/>
<ellipse cx="929.33" cy="1043.67" rx="6.5" ry="6.9"/>
<ellipse cx="945.67" cy="1041" rx="6.5" ry="6.9"/>
<ellipse cx="937.33" cy="1113" rx="6.5" ry="6.9"/>
<ellipse cx="930" cy="1186.33" rx="6.5" ry="6.9"/>
<ellipse cx="945" cy="1186.33" rx="6.5" ry="6.9"/>
<ellipse cx="979.5" cy="1186.8" rx="6.5" ry="6.9"/>
<ellipse cx="985" cy="1186.8" rx="6.5" ry="6.9"/>
<ellipse cx="990.5" cy="1186.8" rx="6.5" ry="6.9"/>
<ellipse cx="1032.33" cy="1019.67" rx="6.5" ry="6.9"/>
<ellipse cx="1032.33" cy="1079.33" rx="6.5" ry="6.9"/>
<ellipse cx="1026.83" cy="1186.8" rx="6.5" ry="6.9"/>
<ellipse cx="1032.33" cy="1186.8" rx="6.5" ry="6.9"/>
<ellipse cx="1037.83" cy="1186.8" rx="6.5" ry="6.9"/>
<ellipse cx="1064" cy="961.33" rx="6.5" ry="6.9"/>
<ellipse cx="1087.67" cy="959.33" rx="6.5" ry="6.9"/>
<ellipse cx="1072.33" cy="977" rx="6.5" ry="6.9"/>
<ellipse cx="1087.67" cy="986.33" rx="6.5" ry="6.9"/>
<ellipse cx="1080" cy="1186.8" rx="6.5" ry="6.9"/>
<ellipse cx="1134" cy="1025.33" rx="6.5" ry="6.9"/>
<ellipse cx="1121" cy="1034.33" rx="6.5" ry="6.9"/>
<ellipse cx="1127.67" cy="1043.67" rx="6.5" ry="6.9"/>
<ellipse cx="1120" cy="1186.33" rx="6.5" ry="6.9"/>
<ellipse cx="1135" cy="1186.33" rx="6.5" ry="6.9"/>
<ellipse cx="1175" cy="1069.67" rx="6.5" ry="6.9"/>
<ellipse cx="1175" cy="1092" rx="6.5" ry="6.9"/>
<ellipse cx="1169.5" cy="1186.8" rx="6.5" ry="6.9"/>
<ellipse cx="1175" cy="1186.8" rx="6.5" ry="6.9"/>
<ellipse cx="1180.5" cy="1186.8" rx="6.5" ry="6.9"/>
<ellipse cx="1222.67" cy="935.33" rx="6.5" ry="6.9"/>
<ellipse cx="1222.67" cy="982" rx="6.5" ry="6.9"/>
<ellipse cx="1222.67" cy="1003" rx="6.5" ry="6.9"/>
<ellipse cx="1215" cy="1186.33" rx="6.5" ry="6.9"/>
<ellipse cx="1230" cy="1186.33" rx="6.5" ry="6.9"/>
<ellipse cx="1270.33" cy="997" rx="6.5" ry="6.9"/>
<ellipse cx="1270.33" cy="1043.67" rx="6.5" ry="6.9"/>
<ellipse cx="1264.83" cy="1186.8" rx="6.5" ry="6.9"/>
<ellipse cx="1270.33" cy="1186.8" rx="6.5" ry="6.9"/>
<ellipse cx="1275.83" cy="1186.8" rx="6.5" ry="6.9"/>
<ellipse cx="1317.67" cy="1052" rx="6.5" ry="6.9"/>
<ellipse cx="1317.67" cy="1092" rx="6.5" ry="6.9"/>
<ellipse cx="1317.67" cy="1113" rx="6.5" ry="6.9"/>
<ellipse cx="1310" cy="1186.33" rx="6.5" ry="6.9"/>
<ellipse cx="1325.67" cy="1186.33" rx="6.5" ry="6.9"/>
</g>
<rect x="839" y="870.35" width="384.3" height="3.3" fill="#231f20"/>
<rect x="835" y="936.05" width="248.3" height="3.3" fill="#231f20"/>
<g fill="#231f20">
<text transform="translate(1040.2 867.37) scale(0.68 1)" font-size="42.86" font-weight="normal" stroke="#231f20" stroke-width="1" stroke-linejoin="round">*</text>
<text transform="translate(950.41 933.48) scale(0.69 1)" font-size="42" font-weight="normal" stroke="#231f20" stroke-width="1" stroke-linejoin="round">*</text>
<text transform="translate(765.64 830.97) scale(0.2622 0.27803)" font-weight="bold" font-size="100" stroke="#231f20" stroke-width="3.24" clip-path="url(#k10)">10</text>
<text transform="translate(795.33 821.6) scale(0.84 1)" font-weight="bold" font-size="21.01" stroke="#231f20" stroke-width="0.7">4</text>
<text transform="translate(765.64 904.31) scale(0.2622 0.27803)" font-weight="bold" font-size="100" stroke="#231f20" stroke-width="3.24" clip-path="url(#k10)">10</text>
<text transform="translate(795.33 894.94) scale(0.84 1)" font-weight="bold" font-size="21.01" stroke="#231f20" stroke-width="0.7">3</text>
<text transform="translate(765.64 977.66) scale(0.2622 0.27803)" font-weight="bold" font-size="100" stroke="#231f20" stroke-width="3.24" clip-path="url(#k10)">10</text>
<text transform="translate(795.33 968.28) scale(0.84 1)" font-weight="bold" font-size="21.01" stroke="#231f20" stroke-width="0.7">2</text>
<text transform="translate(765.64 1051) scale(0.2622 0.27803)" font-weight="bold" font-size="100" stroke="#231f20" stroke-width="3.24" clip-path="url(#k10)">10</text>
<text transform="translate(795.33 1041.63) scale(0.17649 0.21014)" font-weight="bold" font-size="100" stroke="#231f20" stroke-width="3.33" clip-path="url(#k1)">1</text>
<text transform="translate(765.64 1124.34) scale(0.2622 0.27803)" font-weight="bold" font-size="100" stroke="#231f20" stroke-width="3.24" clip-path="url(#k10)">10</text>
<text transform="translate(795.33 1114.97) scale(0.84 1)" font-weight="bold" font-size="21.01" stroke="#231f20" stroke-width="0.7">0</text>
<text transform="translate(758.97 1197.68) scale(0.2622 0.27803)" font-weight="bold" font-size="100" stroke="#231f20" stroke-width="3.24" clip-path="url(#k10)">10</text>
<text transform="translate(789.05 1188.31) scale(0.17649 0.21014)" font-weight="bold" font-size="100" stroke="#231f20" stroke-width="3.33" clip-path="url(#km1)">-1</text>
<text transform="translate(850.33 1219) rotate(-45) scale(0.87 1)" font-weight="bold" text-anchor="end" font-size="28.4" stroke="#231f20" stroke-width="0.9">0</text>
<text transform="translate(898 1219) rotate(-45) scale(0.87 1)" font-weight="bold" text-anchor="end" font-size="28.4" stroke="#231f20" stroke-width="0.9">7</text>
<text transform="translate(945.33 1219) rotate(-45) scale(0.24708 0.284)" font-weight="bold" text-anchor="end" font-size="100" stroke="#231f20" stroke-width="3.17" clip-path="url(#k14e)">14</text>
<text transform="translate(993 1219) rotate(-45) scale(0.24708 0.284)" font-weight="bold" text-anchor="end" font-size="100" stroke="#231f20" stroke-width="3.17" clip-path="url(#k21e)">21</text>
<text transform="translate(1040.33 1219) rotate(-45) scale(0.87 1)" font-weight="bold" text-anchor="end" font-size="28.4" stroke="#231f20" stroke-width="0.9">35</text>
<text transform="translate(1088 1219) rotate(-45) scale(0.87 1)" font-weight="bold" text-anchor="end" font-size="28.4" stroke="#231f20" stroke-width="0.9">52</text>
<text transform="translate(1135.67 1219) rotate(-45) scale(0.24708 0.284)" font-weight="bold" text-anchor="end" font-size="100" stroke="#231f20" stroke-width="3.17" clip-path="url(#k71e)">71</text>
<text transform="translate(1183 1219) rotate(-45) scale(0.87 1)" font-weight="bold" text-anchor="end" font-size="28.4" stroke="#231f20" stroke-width="0.9">98</text>
<text transform="translate(1230.67 1219) rotate(-45) scale(0.24708 0.284)" font-weight="bold" text-anchor="end" font-size="100" stroke="#231f20" stroke-width="3.17" clip-path="url(#k126e)">126</text>
<text transform="translate(1278.33 1219) rotate(-45) scale(0.24708 0.284)" font-weight="bold" text-anchor="end" font-size="100" stroke="#231f20" stroke-width="3.17" clip-path="url(#k156e)">156</text>
<text transform="translate(1325.67 1219) rotate(-45) scale(0.24708 0.284)" font-weight="bold" text-anchor="end" font-size="100" stroke="#231f20" stroke-width="3.17" clip-path="url(#k182e)">182</text>
<text transform="translate(714.8 743.4) scale(0.72 1)" font-size="62.32" font-weight="normal" stroke="#231f20" stroke-width="0.8" stroke-linejoin="round">E</text>
<text transform="translate(962.02 747.55) scale(0.91 1)" font-size="35.35" font-weight="bold" stroke="#231f20" stroke-width="0.9" stroke-linejoin="round">MeV-stimulated</text>
<text transform="translate(946.08 1298.15) scale(0.96 1)" font-size="36.2" font-weight="bold" stroke="#231f20" stroke-width="0.7" stroke-linejoin="round">Days post-infection</text>
</g>
</g>
<g id="panel-F">
<g fill="#909295">
<rect x="1534.32" y="1084.67" width="34.7" height="98.03"/>
<rect x="1585.98" y="1019.33" width="34.7" height="163.37"/>
<rect x="1637.65" y="988.67" width="34.7" height="194.03"/>
<rect x="1689.65" y="1023.67" width="34.7" height="159.03"/>
<rect x="1741.32" y="977" width="34.7" height="205.7"/>
<rect x="1792.98" y="912" width="34.7" height="270.7"/>
<rect x="1844.65" y="954.33" width="34.7" height="228.37"/>
<rect x="1896.32" y="1070.33" width="34.7" height="112.37"/>
<rect x="1948.32" y="910.33" width="34.7" height="272.37"/>
<rect x="1999.98" y="986" width="34.7" height="196.7"/>
<rect x="2051.98" y="1058.67" width="34.7" height="124.03"/>
</g>
<line x1="1525.7" y1="1107.81" x2="2089.5" y2="1107.81" stroke="#231f20" stroke-width="5" stroke-linecap="round" stroke-dasharray="15.4 10.72" stroke-dashoffset="0"/>
<g fill="#231f20">
<rect x="1522.4" y="804.94" width="6.6" height="381.06"/>
<rect x="1509.92" y="1179.2" width="588.08" height="7"/>
<rect x="1509.92" y="804.94" width="15.78" height="6.6"/>
<rect x="1509.92" y="879.83" width="15.78" height="6.6"/>
<rect x="1509.92" y="954.72" width="15.78" height="6.6"/>
<rect x="1509.92" y="1029.62" width="15.78" height="6.6"/>
<rect x="1509.92" y="1104.51" width="15.78" height="6.6"/>
<rect x="1548.27" y="1182.7" width="6.8" height="15.6"/>
<rect x="1599.93" y="1182.7" width="6.8" height="15.6"/>
<rect x="1651.6" y="1182.7" width="6.8" height="15.6"/>
<rect x="1703.6" y="1182.7" width="6.8" height="15.6"/>
<rect x="1755.27" y="1182.7" width="6.8" height="15.6"/>
<rect x="1806.93" y="1182.7" width="6.8" height="15.6"/>
<rect x="1858.6" y="1182.7" width="6.8" height="15.6"/>
<rect x="1910.27" y="1182.7" width="6.8" height="15.6"/>
<rect x="1962.27" y="1182.7" width="6.8" height="15.6"/>
<rect x="2013.93" y="1182.7" width="6.8" height="15.6"/>
<rect x="2065.93" y="1182.7" width="6.8" height="15.6"/>
</g>
<g stroke="#231f20" fill="none">
<path stroke-width="4.6" d="M1551.67 1068.67V1117.67M1603.33 1007V1038M1655 974.33V1013.67M1707 1006.33V1063.67M1758.67 968.67V987M1810.33 896.33V943M1862 934.67V1008.67M1913.67 1062V1079.33M1965.67 898.67V927M2017.33 967.67V1031.33M2069.33 1039.67V1100.33"/>
<path stroke-width="5" stroke-linecap="round" d="M1543.22 1068.67H1560.12M1543.22 1117.67H1560.12M1594.88 1007H1611.78M1594.88 1038H1611.78M1646.55 974.33H1663.45M1646.55 1013.67H1663.45M1698.55 1006.33H1715.45M1698.55 1063.67H1715.45M1750.22 968.67H1767.12M1750.22 987H1767.12M1801.88 896.33H1818.78M1801.88 943H1818.78M1853.55 934.67H1870.45M1853.55 1008.67H1870.45M1905.22 1062H1922.12M1905.22 1079.33H1922.12M1957.22 898.67H1974.12M1957.22 927H1974.12M2008.88 967.67H2025.78M2008.88 1031.33H2025.78M2060.88 1039.67H2077.78M2060.88 1100.33H2077.78"/>
</g>
<g fill="#231f20">
<ellipse cx="1551.67" cy="1044.67" rx="7.4" ry="7.6"/>
<ellipse cx="1543.33" cy="1085.33" rx="7.4" ry="7.6"/>
<ellipse cx="1560" cy="1108" rx="7.4" ry="7.6"/>
<ellipse cx="1543.33" cy="1183" rx="7.4" ry="7.6"/>
<ellipse cx="1559.33" cy="1183" rx="7.4" ry="7.6"/>
<ellipse cx="1595" cy="995.33" rx="7.4" ry="7.6"/>
<ellipse cx="1611.67" cy="998.67" rx="7.4" ry="7.6"/>
<ellipse cx="1603.33" cy="1022" rx="7.4" ry="7.6"/>
<ellipse cx="1603.33" cy="1108" rx="7.4" ry="7.6"/>
<ellipse cx="1603.33" cy="1182.7" rx="7.4" ry="7.6"/>
<ellipse cx="1655" cy="954.33" rx="7.4" ry="7.6"/>
<ellipse cx="1663.33" cy="982.67" rx="7.4" ry="7.6"/>
<ellipse cx="1646.67" cy="994.33" rx="7.4" ry="7.6"/>
<ellipse cx="1655" cy="1108" rx="7.4" ry="7.6"/>
<ellipse cx="1655" cy="1182.7" rx="7.4" ry="7.6"/>
<ellipse cx="1707" cy="980.33" rx="7.4" ry="7.6"/>
<ellipse cx="1715.33" cy="1036" rx="7.4" ry="7.6"/>
<ellipse cx="1698.33" cy="1055.33" rx="7.4" ry="7.6"/>
<ellipse cx="1707" cy="1085.33" rx="7.4" ry="7.6"/>
<ellipse cx="1707" cy="1182.7" rx="7.4" ry="7.6"/>
<ellipse cx="1758.67" cy="962" rx="7.4" ry="7.6"/>
<ellipse cx="1752.33" cy="968.67" rx="7.4" ry="7.6"/>
<ellipse cx="1765" cy="968.67" rx="7.4" ry="7.6"/>
<ellipse cx="1758.67" cy="987" rx="7.4" ry="7.6"/>
<ellipse cx="1758.67" cy="1072.67" rx="7.4" ry="7.6"/>
<ellipse cx="1810.33" cy="872.33" rx="7.4" ry="7.6"/>
<ellipse cx="1810.33" cy="916.33" rx="7.4" ry="7.6"/>
<ellipse cx="1801.67" cy="946" rx="7.4" ry="7.6"/>
<ellipse cx="1819.33" cy="954.67" rx="7.4" ry="7.6"/>
<ellipse cx="1810.33" cy="990.33" rx="7.4" ry="7.6"/>
<ellipse cx="1862" cy="907" rx="7.4" ry="7.6"/>
<ellipse cx="1862" cy="981.33" rx="7.4" ry="7.6"/>
<ellipse cx="1853.33" cy="1008.67" rx="7.4" ry="7.6"/>
<ellipse cx="1870.67" cy="1024.67" rx="7.4" ry="7.6"/>
<ellipse cx="1862" cy="1085.33" rx="7.4" ry="7.6"/>
<ellipse cx="1902.67" cy="1063.67" rx="7.4" ry="7.6"/>
<ellipse cx="1910" cy="1063.67" rx="7.4" ry="7.6"/>
<ellipse cx="1917.67" cy="1063.67" rx="7.4" ry="7.6"/>
<ellipse cx="1925.67" cy="1063.67" rx="7.4" ry="7.6"/>
<ellipse cx="1913.67" cy="1182.7" rx="7.4" ry="7.6"/>
<ellipse cx="1959.67" cy="885.33" rx="7.4" ry="7.6"/>
<ellipse cx="1971.67" cy="899.33" rx="7.4" ry="7.6"/>
<ellipse cx="1965.67" cy="905.33" rx="7.4" ry="7.6"/>
<ellipse cx="1965.67" cy="961.33" rx="7.4" ry="7.6"/>
<ellipse cx="1965.67" cy="1182.7" rx="7.4" ry="7.6"/>
<ellipse cx="2017.33" cy="941" rx="7.4" ry="7.6"/>
<ellipse cx="2025.67" cy="1002" rx="7.4" ry="7.6"/>
<ellipse cx="2009" cy="1015.33" rx="7.4" ry="7.6"/>
<ellipse cx="2017.33" cy="1108" rx="7.4" ry="7.6"/>
<ellipse cx="2017.33" cy="1182.7" rx="7.4" ry="7.6"/>
<ellipse cx="2069.33" cy="1014.33" rx="7.4" ry="7.6"/>
<ellipse cx="2060.67" cy="1072.67" rx="7.4" ry="7.6"/>
<ellipse cx="2077.67" cy="1085.33" rx="7.4" ry="7.6"/>
<ellipse cx="2061.67" cy="1183" rx="7.4" ry="7.6"/>
<ellipse cx="2077.67" cy="1183" rx="7.4" ry="7.6"/>
</g>
<rect x="1546.7" y="804.05" width="428.3" height="3.3" fill="#231f20"/>
<rect x="1546.7" y="847.65" width="247.6" height="3.3" fill="#231f20"/>
<g fill="#231f20">
<text transform="translate(1760.4 801.37) scale(0.68 1)" font-size="42.86" font-weight="normal" stroke="#231f20" stroke-width="1" stroke-linejoin="round">*</text>
<text transform="translate(1661.91 845.98) scale(0.7 1)" font-size="41.71" font-weight="normal" stroke="#231f20" stroke-width="1" stroke-linejoin="round">*</text>
<text transform="translate(1466.41 818.83) scale(0.2816 0.28197)" font-weight="bold" font-size="100" stroke="#231f20" stroke-width="3.19" clip-path="url(#k10)">10</text>
<text transform="translate(1498.48 808.32) scale(0.89 1)" font-weight="bold" font-size="21.01" stroke="#231f20" stroke-width="0.7">4</text>
<text transform="translate(1466.41 893.72) scale(0.2816 0.28197)" font-weight="bold" font-size="100" stroke="#231f20" stroke-width="3.19" clip-path="url(#k10)">10</text>
<text transform="translate(1498.48 883.21) scale(0.89 1)" font-weight="bold" font-size="21.01" stroke="#231f20" stroke-width="0.7">3</text>
<text transform="translate(1466.41 968.61) scale(0.2816 0.28197)" font-weight="bold" font-size="100" stroke="#231f20" stroke-width="3.19" clip-path="url(#k10)">10</text>
<text transform="translate(1498.48 958.1) scale(0.89 1)" font-weight="bold" font-size="21.01" stroke="#231f20" stroke-width="0.7">2</text>
<text transform="translate(1466.41 1043.5) scale(0.2816 0.28197)" font-weight="bold" font-size="100" stroke="#231f20" stroke-width="3.19" clip-path="url(#k10)">10</text>
<text transform="translate(1498.48 1033) scale(0.18669 0.21014)" font-weight="bold" font-size="100" stroke="#231f20" stroke-width="3.33" clip-path="url(#k1)">1</text>
<text transform="translate(1466.41 1118.4) scale(0.2816 0.28197)" font-weight="bold" font-size="100" stroke="#231f20" stroke-width="3.19" clip-path="url(#k10)">10</text>
<text transform="translate(1498.48 1107.89) scale(0.89 1)" font-weight="bold" font-size="21.01" stroke="#231f20" stroke-width="0.7">0</text>
<text transform="translate(1459.39 1193.29) scale(0.2816 0.28197)" font-weight="bold" font-size="100" stroke="#231f20" stroke-width="3.19" clip-path="url(#k10)">10</text>
<text transform="translate(1491.86 1182.78) scale(0.18669 0.21014)" font-weight="bold" font-size="100" stroke="#231f20" stroke-width="3.33" clip-path="url(#km1)">-1</text>
<text transform="translate(1557.17 1216.7) rotate(-45) scale(0.87 1)" font-weight="bold" text-anchor="end" font-size="30.1" stroke="#231f20" stroke-width="0.9">0</text>
<text transform="translate(1608.83 1216.7) rotate(-45) scale(0.87 1)" font-weight="bold" text-anchor="end" font-size="30.1" stroke="#231f20" stroke-width="0.9">7</text>
<text transform="translate(1660.5 1216.7) rotate(-45) scale(0.26187 0.301)" font-weight="bold" text-anchor="end" font-size="100" stroke="#231f20" stroke-width="2.99" clip-path="url(#k14e)">14</text>
<text transform="translate(1712.5 1216.7) rotate(-45) scale(0.26187 0.301)" font-weight="bold" text-anchor="end" font-size="100" stroke="#231f20" stroke-width="2.99" clip-path="url(#k21e)">21</text>
<text transform="translate(1764.17 1216.7) rotate(-45) scale(0.87 1)" font-weight="bold" text-anchor="end" font-size="30.1" stroke="#231f20" stroke-width="0.9">35</text>
<text transform="translate(1815.83 1216.7) rotate(-45) scale(0.87 1)" font-weight="bold" text-anchor="end" font-size="30.1" stroke="#231f20" stroke-width="0.9">52</text>
<text transform="translate(1867.5 1216.7) rotate(-45) scale(0.26187 0.301)" font-weight="bold" text-anchor="end" font-size="100" stroke="#231f20" stroke-width="2.99" clip-path="url(#k71e)">71</text>
<text transform="translate(1919.17 1216.7) rotate(-45) scale(0.87 1)" font-weight="bold" text-anchor="end" font-size="30.1" stroke="#231f20" stroke-width="0.9">98</text>
<text transform="translate(1971.17 1216.7) rotate(-45) scale(0.26187 0.301)" font-weight="bold" text-anchor="end" font-size="100" stroke="#231f20" stroke-width="2.99" clip-path="url(#k126e)">126</text>
<text transform="translate(2022.83 1216.7) rotate(-45) scale(0.26187 0.301)" font-weight="bold" text-anchor="end" font-size="100" stroke="#231f20" stroke-width="2.99" clip-path="url(#k156e)">156</text>
<text transform="translate(2074.83 1216.7) rotate(-45) scale(0.26187 0.301)" font-weight="bold" text-anchor="end" font-size="100" stroke="#231f20" stroke-width="2.99" clip-path="url(#k182e)">182</text>
<text transform="translate(1390.59 743.4) scale(0.77 1)" font-size="62.32" font-weight="normal" stroke="#231f20" stroke-width="0.8" stroke-linejoin="round">F</text>
<text transform="translate(1653.71 739.05) scale(0.98 1)" font-size="33.94" font-weight="bold" stroke="#231f20" stroke-width="0.9" stroke-linejoin="round">Total MeV-Specfic</text>
<text transform="translate(1644.8 1294.95) scale(1 1)" font-size="34.65" font-weight="bold" stroke="#231f20" stroke-width="0.7" stroke-linejoin="round">Days post-infection</text>
</g>
</g>
</svg>
</body>
</html>
